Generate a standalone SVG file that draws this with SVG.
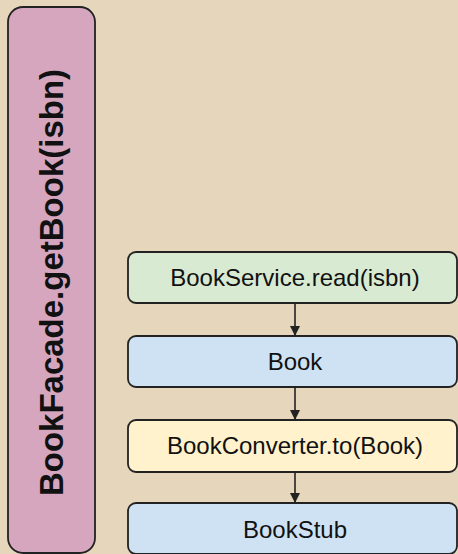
<svg xmlns="http://www.w3.org/2000/svg" width="458" height="554" viewBox="0 0 458 554">
<defs>
<style>
.box{stroke:#222;stroke-width:1.8}
.t{font-family:"Liberation Sans",Arial,sans-serif;font-size:24px;fill:#111;text-anchor:middle}
.c{stroke:#222;stroke-width:1.6;fill:none}
</style>
<marker id="ah" markerWidth="10" markerHeight="10" refX="9" refY="5" orient="auto" markerUnits="userSpaceOnUse">
<path d="M0,0 L10,5 L0,10 z" fill="#222"/>
</marker>
</defs>
<rect x="0" y="0" width="458" height="554" fill="#e5d6bc"/>
<g id="facade">
<rect class="box" x="8" y="7" width="87" height="546" rx="15" fill="#d5a6bd"/>
<text x="0" y="0" transform="translate(63,282.5) rotate(-90)" style="font-family:'Liberation Sans',Arial,sans-serif;font-size:33px;font-weight:bold;fill:#111;text-anchor:middle">BookFacade.getBook(isbn)</text>
</g>
<g id="service">
<rect class="box" x="128" y="252" width="329" height="51" rx="8" fill="#d9ead3"/>
<text class="t" x="295" y="286">BookService.read(isbn)</text>
</g>
<g id="book">
<rect class="box" x="128" y="336" width="329" height="51" rx="8" fill="#cfe2f3"/>
<text class="t" x="295" y="370">Book</text>
</g>
<g id="converter">
<rect class="box" x="128" y="420" width="329" height="52" rx="8" fill="#fff2cc"/>
<text class="t" x="295" y="454">BookConverter.to(Book)</text>
</g>
<g id="stub">
<rect class="box" x="128" y="503" width="329" height="51" rx="8" fill="#cfe2f3"/>
<text class="t" x="295" y="538">BookStub</text>
</g>
<g id="connectors">
<line class="c" x1="295" y1="303" x2="295" y2="335" marker-end="url(#ah)"/>
<line class="c" x1="295" y1="387" x2="295" y2="419" marker-end="url(#ah)"/>
<line class="c" x1="295" y1="472" x2="295" y2="502" marker-end="url(#ah)"/>
</g>
</svg>
